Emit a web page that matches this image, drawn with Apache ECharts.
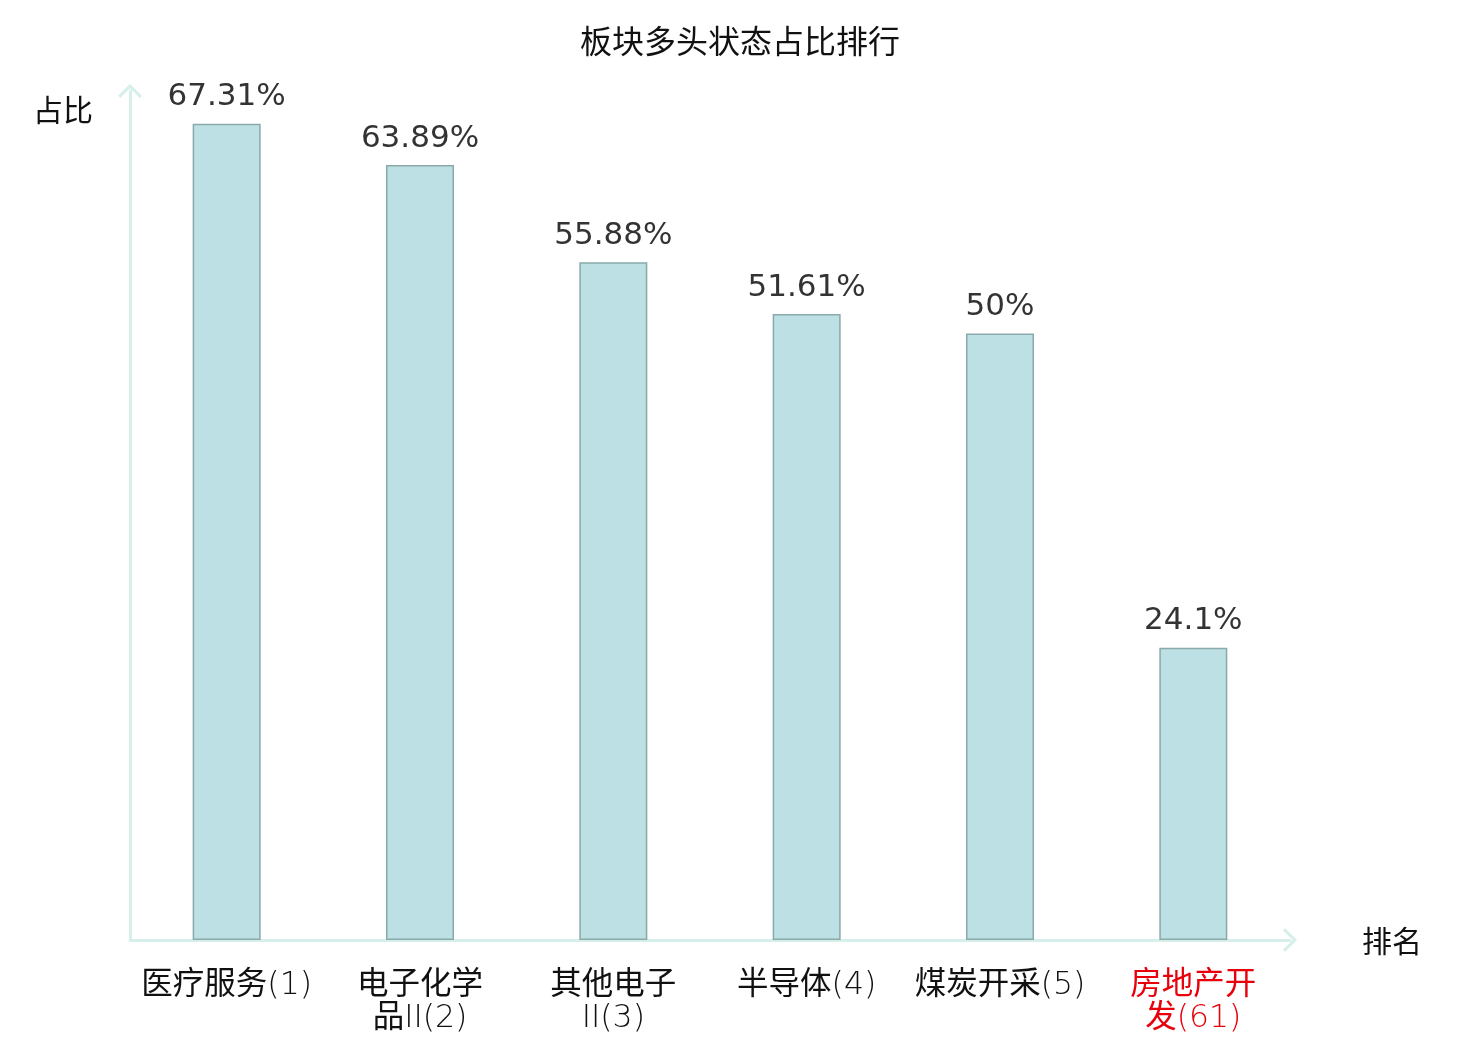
<!DOCTYPE html>
<html><head><meta charset="utf-8">
<script src="https://cdn.jsdelivr.net/npm/echarts@6/dist/echarts.min.js"></script>
<style>html,body{margin:0;padding:0;background:#fff}#c{width:1480px;height:1040px}</style>
</head><body><div id="c"></div>
<script>
const categories = ['医疗服务(1)', '电子化学\n品II(2)', '其他电子\nII(3)', '半导体(4)', '煤炭开采(5)', '房地产开\n发(61)'];
const values = [67.31, 63.89, 55.88, 51.61, 50, 24.1];
const highlightIndex = [5];
const titleText = '板块多头状态占比排行';
const yName = '占比';
const xName = '排名';

const chevron = 'path://M0,10 L10,0 L20,10 L18.2,11.8 L10,3.6 L1.8,11.8 Z';
const font = '"DejaVu Sans", "Noto Sans CJK SC", sans-serif';

function labelFormatter(value, index) {
  const red = highlightIndex.includes(index);
  return value.split('\n').map(line =>
    line.replace(/([\u4e00-\u9fff]+)|([^\u4e00-\u9fff]+)/g, (m, c, l) =>
      c ? '{' + (red ? 'cr' : 'c') + '|' + c + '}' : '{' + (red ? 'lr' : 'l') + '|' + l + '}')
  ).join('\n');
}
const base = {fontSize: 31.5, lineHeight: 33, fontFamily: font};

const chart = echarts.init(document.getElementById('c'));
chart.setOption({
  animation: false,
  textStyle: {fontFamily: font},
  title: {text: titleText, left: 'center', top: 24, textStyle: {fontSize: 32, fontWeight: 'normal', color: '#111', fontFamily: font}},
  grid: {left: 130, right: 190, top: 91, bottom: 100, containLabel: false},
  xAxis: {
    type: 'category', data: categories,
    name: '{a|' + xName + '}', nameLocation: 'end', nameGap: 72,
    nameTextStyle: {fontSize: 30, color: '#111', fontFamily: font, rich: {a: {fontSize: 30, color: '#111', fontFamily: font, padding: [8, 0, 0, 0]}}},
    axisLine: {show: true, symbol: ['none', chevron], symbolSize: [24, 14], lineStyle: {color: '#d6efeb', width: 3}},
    axisTick: {show: false},
    axisLabel: {
      interval: 0, margin: 29, fontSize: 31.5, lineHeight: 33, fontFamily: font,
      formatter: labelFormatter,
      rich: {
        c: Object.assign({}, base, {color: '#111', fontWeight: 'normal'}),
        l: Object.assign({}, base, {color: '#111', fontWeight: 200}),
        cr: Object.assign({}, base, {color: '#e8000b', fontWeight: 'normal'}),
        lr: Object.assign({}, base, {color: '#e8000b', fontWeight: 200})
      }
    }
  },
  yAxis: {
    type: 'value', min: 0, max: 70,
    name: yName, nameLocation: 'end', nameGap: -22,
    nameTextStyle: {fontSize: 30, color: '#111', align: 'right', verticalAlign: 'middle', padding: [0, 37, 0, 0], fontFamily: font},
    axisLine: {show: true, symbol: ['none', chevron], symbolSize: [24, 14], lineStyle: {color: '#d6efeb', width: 3}},
    axisTick: {show: false}, axisLabel: {show: false}, splitLine: {show: false}
  },
  series: [{
    type: 'bar', data: values, barWidth: 68,
    itemStyle: {color: '#bce0e3', borderColor: '#8aa9aa', borderWidth: 1.5},
    label: {show: true, position: 'top', distance: 11, fontSize: 31, color: '#333', fontFamily: font, formatter: p => p.value + '%'}
  }]
});
</script></body></html>
